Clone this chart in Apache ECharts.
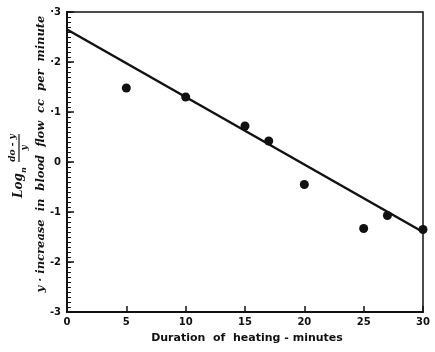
<!DOCTYPE html>
<html>
<head>
<meta charset="utf-8">
<script src="https://cdn.jsdelivr.net/npm/echarts@6/dist/echarts.min.js"></script>
<style>
  html, body { margin: 0; padding: 0; background: #fff; }
  #chart { width: 435px; height: 352px; }
</style>
</head>
<body>
<div id="chart"></div>
<script>
// measured points: duration of heating (min) vs log_e((y0 - y)/y)
const minutes = [5, 10, 15, 17, 20, 25, 27, 30];
const logRatio = [1.48, 1.3, 0.72, 0.42, -0.45, -1.33, -1.07, -1.35];

const fitMinutes = [0, 30];
const fitValues = [2.65, -1.4];

const xTicks = [0, 5, 10, 15, 20, 25, 30];
const yTicks = [-3, -2, -1, 0, 1, 2, 3];

const ink = "#111";
const chart = echarts.init(document.getElementById("chart"));

const yRange = { min: yTicks[0], max: yTicks[yTicks.length - 1] };

chart.setOption({
  animation: false,
  backgroundColor: "#fff",
  grid: {
    left: 67,
    right: 12,
    top: 12,
    bottom: 40,
    show: true,
    borderColor: ink,
    borderWidth: 1.5,
  },
  xAxis: {
    type: "value",
    min: xTicks[0],
    max: xTicks[xTicks.length - 1],
    interval: 5,
    axisLine: { onZero: false, lineStyle: { color: ink, width: 2 } },
    axisTick: { inside: true, length: 6, lineStyle: { color: ink, width: 1.5 } },
    axisLabel: {
      color: ink,
      fontFamily: "DejaVu Sans",
      fontWeight: "bold",
      fontSize: 10,
      margin: 5,
    },
    splitLine: { show: false },
  },
  yAxis: [
    {
      type: "value",
      ...yRange,
      interval: 1,
      axisLine: { onZero: false, lineStyle: { color: ink, width: 2 } },
      axisTick: { inside: true, length: 7, lineStyle: { color: ink, width: 1.5 } },
      axisLabel: {
        color: ink,
        fontFamily: "DejaVu Sans",
        fontWeight: "bold",
        fontSize: 10,
        margin: 6,
        formatter: (v) => (v > 0 ? "·" + v : String(v)),
      },
      splitLine: { show: false },
    },
    {
      // small tenth-of-a-unit ticks along the left edge
      type: "value",
      position: "left",
      ...yRange,
      interval: 0.1,
      axisLine: { show: false },
      axisTick: { inside: true, length: 4, lineStyle: { color: ink, width: 1 } },
      axisLabel: { show: false },
      splitLine: { show: false },
    },
  ],
  series: [
    {
      type: "line",
      data: fitMinutes.map((x, i) => [x, fitValues[i]]),
      showSymbol: false,
      lineStyle: { color: ink, width: 2.5 },
      silent: true,
      z: 2,
    },
    {
      type: "scatter",
      data: minutes.map((x, i) => [x, logRatio[i]]),
      symbolSize: 9,
      itemStyle: { color: ink, opacity: 1 },
      z: 3,
    },
  ],
  graphic: [
    {
      type: "group",
      x: 19,
      y: 162,
      rotation: Math.PI / 2,
      children: [
        {
          type: "text",
          x: -36,
          y: 0,
          style: {
            text: "Log",
            font: "italic bold 12px 'DejaVu Serif'",
            fill: ink,
            verticalAlign: "middle",
          },
        },
        {
          type: "text",
          x: -11,
          y: 5,
          style: {
            text: "n",
            font: "italic bold 8px 'DejaVu Serif'",
            fill: ink,
            verticalAlign: "middle",
          },
        },
        {
          type: "text",
          x: 14,
          y: -6,
          style: {
            text: "do - y",
            font: "italic bold 9px 'DejaVu Serif'",
            fill: ink,
            align: "center",
            verticalAlign: "middle",
          },
        },
        {
          type: "line",
          shape: { x1: 0, y1: 0, x2: 28, y2: 0 },
          style: { stroke: ink, lineWidth: 1.2 },
        },
        {
          type: "text",
          x: 14,
          y: 6,
          style: {
            text: "y",
            font: "italic bold 9px 'DejaVu Serif'",
            fill: ink,
            align: "center",
            verticalAlign: "middle",
          },
        },
      ],
    },
    {
      type: "text",
      x: 41,
      y: 154,
      rotation: Math.PI / 2,
      style: {
        text: "y · increase  in  blood  flow  cc  per  minute",
        font: "italic bold 11.5px 'DejaVu Serif'",
        fill: ink,
        align: "center",
        verticalAlign: "middle",
      },
    },
    {
      type: "text",
      x: 247,
      y: 338,
      style: {
        text: "Duration  of  heating - minutes",
        font: "bold 11px 'DejaVu Sans'",
        fill: ink,
        align: "center",
        verticalAlign: "middle",
      },
    },
  ],
});
</script>
</body>
</html>
